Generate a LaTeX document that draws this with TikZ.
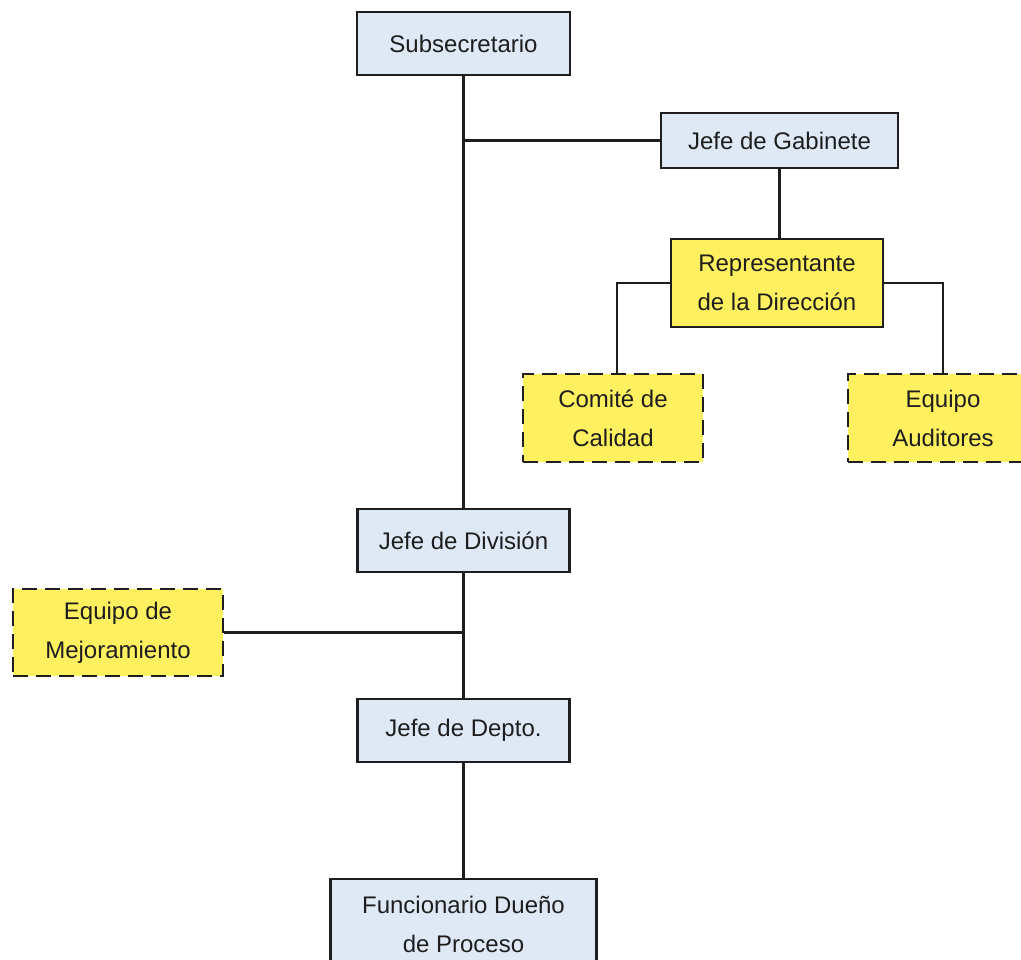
\documentclass[tikz,border=0pt]{standalone}
\usepackage{fontspec}
\setmainfont{Liberation Sans}
\definecolor{boxblue}{RGB}{222,233,245}
\definecolor{boxyellow}{RGB}{255,240,96}
\definecolor{inkline}{RGB}{30,30,30}
\begin{document}
\begin{tikzpicture}[x=1pt,y=-1pt,
  every node/.style={font=\fontsize{24}{39}\selectfont, text=inkline, inner sep=0pt, align=center},
  unit/.style={draw=inkline, line width=2.4pt, fill=boxblue, rectangle},
  lead/.style={draw=inkline, line width=2.4pt, fill=boxyellow, rectangle},
  team/.style={draw=inkline, line width=2.6pt, fill=boxyellow, rectangle, dash pattern=on 15pt off 8pt},
  link/.style={draw=inkline, line width=2.4pt}]
  \useasboundingbox (0,0) rectangle (1021,960);
  \clip (0,0) rectangle (1021,960);
  \fill[white] (0,0) rectangle (1021,960);

  % hierarchy boxes
  \node[unit, minimum width=213pt, minimum height=63pt] (sub) at (463.5,43.5) {Subsecretario};
  \node[unit, minimum width=237pt, minimum height=55pt] (gab) at (779.5,140.5) {Jefe de Gabinete};
  \node[lead, minimum width=212pt, minimum height=88pt] (rep) at (777,283) {Representante\\de la Dirección};
  \node[team, minimum width=180pt, minimum height=88pt] (com) at (613,418) {Comité de\\Calidad};
  \node[team, minimum width=190pt, minimum height=88pt] (aud) at (943,418) {Equipo\\Auditores};
  \node[unit, minimum width=212pt, minimum height=63pt] (div) at (463.5,540.5) {Jefe de División};
  \node[team, minimum width=210pt, minimum height=87pt] (mej) at (118,632.5) {Equipo de\\Mejoramiento};
  \node[unit, minimum width=212pt, minimum height=63pt] (dep) at (463.5,730.5) {Jefe de Depto.};
  \node[unit, minimum width=266pt, minimum height=90pt] (fun) at (463.5,924) {Funcionario Dueño\\de Proceso};

  % reporting lines
  \draw[link] (sub.south) -- (div.north);
  \draw[link] (gab.west) -- (gab.west -| sub.south);
  \draw[link] (gab.south) -- (rep.north -| gab.south);
  \draw[link] (rep.west) -| (com.north -| 617,0);
  \draw[link] (rep.east) -| (aud.north);
  \draw[link] (div.south) -- (dep.north);
  \draw[link] (mej.east) -- (mej.east -| div.south);
  \draw[link] (dep.south) -- (fun.north);
\end{tikzpicture}
\end{document}
